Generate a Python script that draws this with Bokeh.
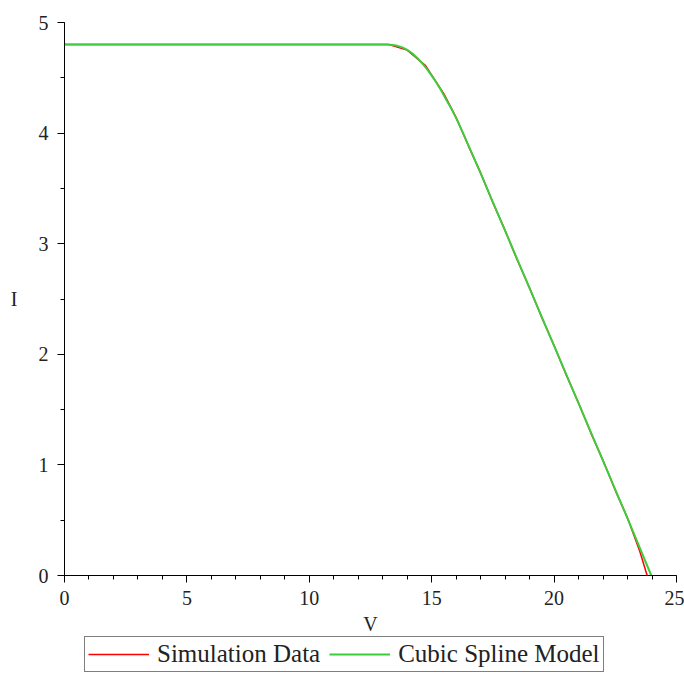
from bokeh.plotting import figure
from bokeh.models import Range1d, SingleIntervalTicker, Legend, LegendItem
from bokeh.embed import file_html
from bokeh.resources import INLINE

# Simulation data (red)
V_sim = [0, 13.25, 14.0, 14.75, 15.5, 16.0, 16.5, 17.0, 17.5, 18.0, 18.5, 19.0,
         19.5, 20.0, 20.5, 21.0, 21.5, 22.0, 22.5, 23.0, 23.5, 23.8]
I_sim = [4.8, 4.8, 4.75, 4.61, 4.355, 4.14, 3.885, 3.64, 3.37, 3.12, 2.85, 2.60,
         2.33, 2.08, 1.81, 1.56, 1.29, 1.04, 0.77, 0.52, 0.22, 0.0]

# Cubic spline model (green)
V_model = [0, 13.2, 13.4, 13.6, 13.8, 14.0, 14.2, 14.4, 14.6, 14.8, 15.0, 15.2,
           15.4, 15.6, 15.8, 16.0, 16.3, 17, 18, 19, 20, 21, 22, 23, 23.97]
I_model = [4.8, 4.8, 4.797, 4.789, 4.775, 4.752, 4.722, 4.682, 4.634, 4.58, 4.52,
           4.453, 4.38, 4.3, 4.222, 4.135, 3.99, 3.636, 3.116, 2.596, 2.076, 1.556,
           1.036, 0.516, 0.0]

series_labels = ["Simulation Data", "Cubic Spline Model"]
RED = "#ff0000"
GREEN = "#3ccc3c"
FONT = "Liberation Serif"

W, H = 684, 673
# pixel positions of the axis corners in the page
PX0, PX25, PY0, PY5 = 64, 676, 575, 22
sx = (PX25 - PX0) / 25.0
sy = (PY0 - PY5) / 5.0
x_lo, x_hi = -PX0 / sx, 25 + (W - PX25) / sx
y_lo, y_hi = -(H - PY0) / sy, 5 + PY5 / sy

p = figure(width=W, height=H, output_backend="svg", toolbar_location=None,
           x_range=Range1d(x_lo, x_hi), y_range=Range1d(y_lo, y_hi),
           min_border_left=0, min_border_right=0, min_border_top=0,
           min_border_bottom=0)
p.outline_line_color = None
p.xgrid.visible = False
p.ygrid.visible = False
p.background_fill_color = "white"
p.border_fill_color = "white"

r_sim = p.line(V_sim, I_sim, line_color=RED, line_width=1.5)
r_mod = p.line(V_model, I_model, line_color=GREEN, line_width=2)

p.xaxis.ticker = SingleIntervalTicker(interval=5, num_minor_ticks=5)
p.yaxis.ticker = SingleIntervalTicker(interval=1, num_minor_ticks=2)
p.xaxis.fixed_location = 0
p.yaxis.fixed_location = 0
p.xaxis.bounds = (0, 25)
p.yaxis.bounds = (0, 5)

for ax in (p.xaxis, p.yaxis):
    ax.axis_line_color = "black"
    ax.axis_line_width = 1
    ax.major_tick_line_color = "black"
    ax.minor_tick_line_color = "black"
    ax.major_tick_in = 0
    ax.major_tick_out = 7
    ax.minor_tick_in = 0
    ax.minor_tick_out = 4
    ax.major_label_text_font = FONT
    ax.major_label_text_font_size = "20px"
    ax.major_label_text_color = "#222222"
    ax.axis_label_text_font = FONT
    ax.axis_label_text_font_size = "20px"
    ax.axis_label_text_font_style = "normal"
    ax.axis_label_text_color = "#222222"

p.xaxis.axis_label = "V"
p.yaxis.axis_label = "I"
p.xaxis.major_label_standoff = 8
p.yaxis.major_label_standoff = 9
p.xaxis.axis_label_standoff = 5
p.yaxis.axis_label_standoff = 18
p.yaxis.axis_label_orientation = "horizontal"

legend = Legend(items=[LegendItem(label=series_labels[0], renderers=[r_sim]),
                       LegendItem(label=series_labels[1], renderers=[r_mod])],
                orientation="horizontal", location=(84, 1),
                border_line_color="black", border_line_width=1,
                background_fill_alpha=1, background_fill_color="white",
                label_text_font=FONT, label_text_font_size="25px",
                label_text_color="#222222",
                glyph_width=61, glyph_height=18, label_standoff=8, spacing=9,
                padding=3, margin=0, label_height=18)
p.add_layout(legend, "center")

open("out.html", "w").write(file_html(p, INLINE))
